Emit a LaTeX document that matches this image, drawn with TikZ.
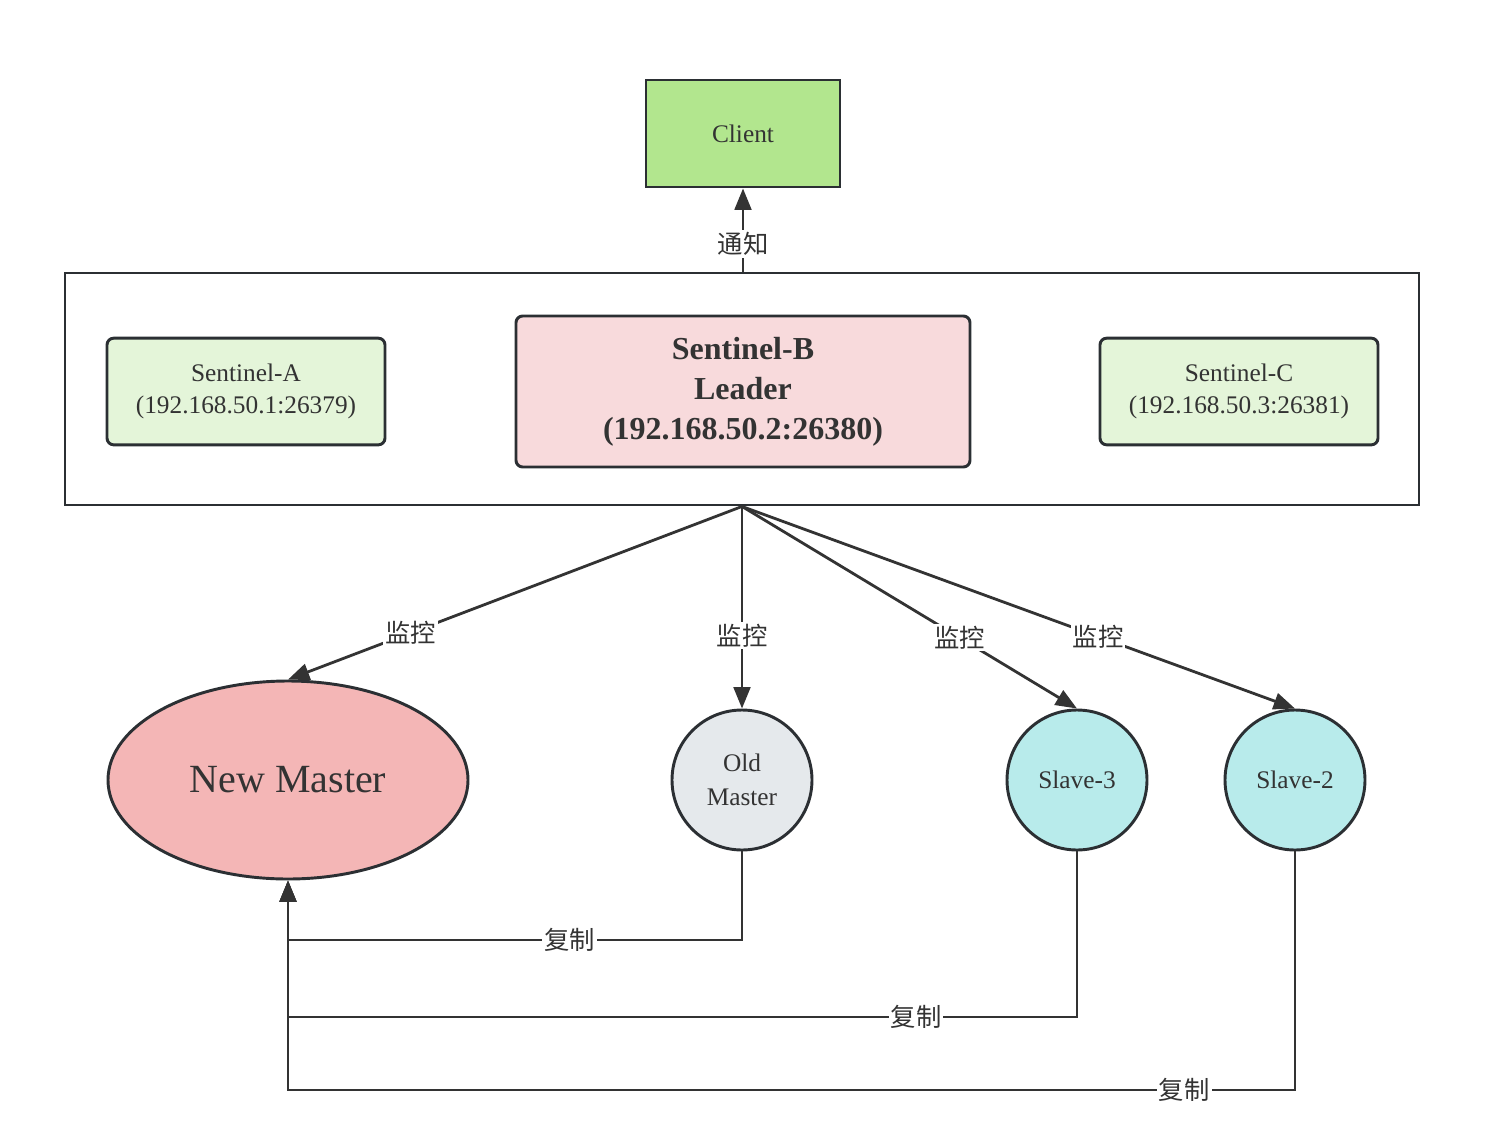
\documentclass[tikz,border=0pt]{standalone}
\usepackage{fontspec}
\setmainfont{Liberation Serif}
\newfontfamily\cjk{Noto Sans CJK SC}
\usetikzlibrary{arrows.meta,shapes.geometric}
\definecolor{ink}{HTML}{333333}
\definecolor{bord}{HTML}{2B2F33}
\definecolor{clientfill}{HTML}{B2E68E}
\definecolor{sentfill}{HTML}{E4F5D9}
\definecolor{leadfill}{HTML}{F8DADC}
\definecolor{nmfill}{HTML}{F4B6B6}
\definecolor{omfill}{HTML}{E5E9EC}
\definecolor{slfill}{HTML}{B8EBEB}
\tikzset{
  px/.style={x=0.75pt,y=-0.75pt},
  basebox/.style={draw=bord,line width=2.2pt,text=ink,align=center,inner sep=0pt},
  sentbox/.style={basebox,rounded corners=5pt,fill=sentfill,minimum width=208.5pt,minimum height=80pt,
     font=\fontsize{19}{24}\selectfont},
  roundnode/.style={basebox,circle,minimum size=105pt,font=\fontsize{19}{25.5}\selectfont},
  arr/.style={draw=ink,line width=2.1pt,-{Triangle[length=16pt,width=12.5pt]}},
  lab/.style={fill=white,text=ink,inner sep=1.5pt,font=\cjk\fontsize{19}{20}\selectfont}
}
\begin{document}
\begin{tikzpicture}[px]
\useasboundingbox (0,0) rectangle (1486,1146);
% nodes
\node[basebox,fill=clientfill,minimum width=145.5pt,minimum height=80.25pt,font=\fontsize{19}{20}\selectfont] (client) at (743,133.5) {Client};
\node[draw=bord,line width=2.2pt,minimum width=1015.5pt,minimum height=174pt,inner sep=0pt] (group) at (742,389) {};
\node[sentbox] (sa) at (246,391.5) {\raisebox{-1.5pt}{\parbox{200pt}{\centering Sentinel-A\\(192.168.50.1:26379)}}};
\node[basebox,rounded corners=5pt,fill=leadfill,minimum width=340.5pt,minimum height=113.25pt,
  font=\bfseries\fontsize{24}{30}\selectfont] (sb) at (743,391.5) {\raisebox{-3pt}{\parbox{330pt}{\centering Sentinel-B\\Leader\\(192.168.50.2:26380)}}};
\node[sentbox] (sc) at (1239,391.5) {\raisebox{-1.5pt}{\parbox{200pt}{\centering Sentinel-C\\(192.168.50.3:26381)}}};
\node[basebox,ellipse,fill=nmfill,minimum width=270pt,minimum height=148.5pt,font=\fontsize{30}{32}\selectfont] (nm) at (288,780) {New Master};
\node[roundnode,fill=omfill] (om) at (742,780) {Old\\Master};
\node[roundnode,fill=slfill] (s3) at (1077,780) {Slave-3};
\node[roundnode,fill=slfill] (s2) at (1295,780) {Slave-2};
% connectors
\coordinate (gt) at (group.north -| client.south);
\draw[arr] (gt) -- node[lab,pos=0.33]{通知} (client.south);
\draw[arr] (group.south) -- node[lab,pos=0.73]{监控} (nm.north);
\draw[arr] (group.south) -- node[lab,pos=0.64]{监控} (om.north);
\draw[arr] (group.south) -- node[lab,pos=0.65]{监控} (s3.north);
\draw[arr] (group.south) -- node[lab,pos=0.644]{监控} (s2.north);
\coordinate (r1) at (288,940);
\coordinate (r2) at (288,1017);
\coordinate (r3) at (288,1090);
\draw[arr] (om.south) |- node[lab,pos=0.69]{复制} (r1) -- (nm.south);
\draw[arr] (s3.south) |- node[lab,pos=0.602]{复制} (r2) -- (nm.south);
\draw[arr] (s2.south) |- node[lab,pos=0.555]{复制} (r3) -- (nm.south);
\end{tikzpicture}
\end{document}
